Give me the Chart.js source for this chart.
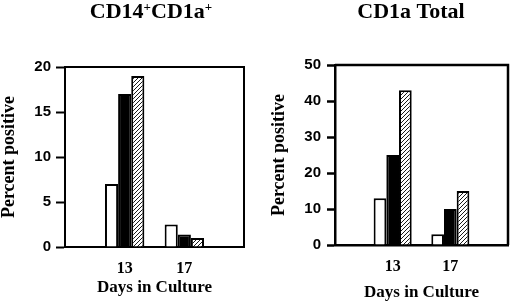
<!DOCTYPE html>
<html>
<head>
<meta charset="utf-8">
<script src="https://cdn.jsdelivr.net/npm/chart.js@4/dist/chart.umd.min.js"></script>
<style>
  html, body { margin: 0; padding: 0; background: #fff; }
  #wrap { position: relative; width: 520px; height: 305px; }
  .panel { position: absolute; top: 0; width: 260px; height: 305px; }
</style>
</head>
<body>
<div id="wrap">
  <div class="panel" style="left:0"><canvas id="c1" width="260" height="305"></canvas></div>
  <div class="panel" style="left:260px"><canvas id="c2" width="260" height="305"></canvas></div>
</div>
<script>
// ---- data ----
const days = ["13", "17"];
const seriesNames = ["Condition A", "Condition B", "Condition C"];

// Panel 1: CD14+CD1a+
const p1Title = [["CD14", false], ["+", true], ["CD1a", false], ["+", true]];
const p1White = [7, 2.5];
const p1Black = [17, 1.4];
const p1Hatch = [19, 1];
const p1YTicks = [0, 5, 10, 15, 20];

// Panel 2: CD1a Total
const p2Title = [["CD1a Total", false]];
const p2White = [13, 3];
const p2Black = [25, 10];
const p2Hatch = [43, 15];
const p2YTicks = [0, 10, 20, 30, 40, 50];

const yTitle = "Percent positive";
const xTitle = "Days in Culture";

// ---- helpers ----
const SERIF = "'Liberation Serif', 'Times New Roman', serif";
const SANS = "'Liberation Sans', Arial, sans-serif";

function hatchPattern() {
  const c = document.createElement('canvas');
  c.width = 4; c.height = 4;
  const g = c.getContext('2d');
  g.fillStyle = '#fff';
  g.fillRect(0, 0, 4, 4);
  g.strokeStyle = '#000';
  g.lineWidth = 0.9;
  g.beginPath();
  g.moveTo(-1, 5); g.lineTo(5, -1);
  g.moveTo(-1, 1); g.lineTo(1, -1);
  g.moveTo(3, 5); g.lineTo(5, 3);
  g.stroke();
  return g.createPattern(c, 'repeat');
}

const labels = ["", ...days, ""];
const pad = arr => [null, ...arr, null];

const boxPlugin = {
  id: 'boxPlugin',
  afterDatasetsDraw(chart, args, opts) {
    const {ctx, chartArea: a} = chart;
    ctx.save();
    ctx.strokeStyle = '#000';
    ctx.lineWidth = opts.width || 2;
    ctx.beginPath();
    ctx.moveTo(a.left, a.top);
    ctx.lineTo(a.right, a.top);
    ctx.lineTo(a.right, a.bottom);
    ctx.stroke();
    ctx.restore();
  }
};

const titlePlugin = {
  id: 'richTitle',
  afterDraw(chart, args, opts) {
    const ctx = chart.ctx;
    const big = "bold " + opts.size + "px " + SERIF;
    const small = "bold " + opts.supSize + "px " + SERIF;
    ctx.save();
    ctx.fillStyle = '#000';
    ctx.textBaseline = 'alphabetic';
    let total = 0;
    opts.parts.forEach(([t, sup]) => { ctx.font = sup ? small : big; total += ctx.measureText(t).width; });
    let x = opts.cx - total / 2;
    opts.parts.forEach(([t, sup]) => {
      ctx.font = sup ? small : big;
      ctx.textAlign = 'left';
      ctx.fillText(t, x, sup ? opts.baseline - opts.supRaise : opts.baseline);
      x += ctx.measureText(t).width;
    });
    ctx.restore();
  }
};

function makeChart(id, cfg) {
  const hatch = hatchPattern();
  return new Chart(document.getElementById(id), {
    type: 'bar',
    data: {
      labels: labels,
      datasets: [
        { label: seriesNames[0], data: pad(cfg.white), backgroundColor: '#fff', borderColor: '#000', borderWidth: 2 },
        { label: seriesNames[1], data: pad(cfg.black), backgroundColor: '#000', borderColor: '#000', borderWidth: 2 },
        { label: seriesNames[2], data: pad(cfg.hatch), backgroundColor: hatch, borderColor: '#000', borderWidth: 2 }
      ]
    },
    plugins: [boxPlugin, titlePlugin],
    options: {
      responsive: false,
      animation: false,
      devicePixelRatio: 1,
      layout: { padding: { top: cfg.top, right: cfg.right, left: 0, bottom: 0 } },
      datasets: { bar: { categoryPercentage: 0.66, barPercentage: 1.0, grouped: true } },
      plugins: {
        legend: { display: false },
        title: { display: false },
        tooltip: { enabled: false },
        boxPlugin: { width: cfg.lw },
        richTitle: { parts: cfg.title, size: 22, supSize: 13, supRaise: 7, baseline: 18, cx: 151 }
      },
      scales: {
        x: {
          type: 'category',
          offset: false,
          grid: { display: false, drawTicks: false },
          border: { display: true, color: '#000', width: cfg.lw },
          ticks: { color: '#000', font: { family: SERIF, size: 16, weight: 'bold' }, padding: cfg.xTickPad, maxRotation: 0, autoSkip: false },
          title: { display: true, text: xTitle, color: '#000', font: { family: SERIF, size: 17, weight: 'bold', lineHeight: 1.2 }, padding: { top: 0, bottom: cfg.xTitlePad } },
          afterFit(s) { s.height = 305 - cfg.bottom; }
        },
        y: {
          min: 0, max: cfg.max,
          afterBuildTicks(s) { s.ticks = cfg.yTicks.map(v => ({ value: v })); },
          grid: { display: true, drawOnChartArea: false, drawTicks: true, tickLength: cfg.tickLen, tickWidth: cfg.lw, tickColor: '#000' },
          border: { display: true, color: '#000', width: cfg.lw },
          ticks: { color: '#000', font: { family: SANS, size: 15, weight: 'bold' }, padding: cfg.yTickPad },
          title: { display: true, text: yTitle, color: '#000', font: { family: SERIF, size: 18, weight: 'bold', lineHeight: 1.0 }, padding: { top: cfg.yTitlePad, bottom: 0 } },
          afterFit(s) { s.width = cfg.left; }
        }
      }
    }
  });
}

makeChart('c1', {
  title: p1Title, white: p1White, black: p1Black, hatch: p1Hatch, yTicks: p1YTicks, max: 20,
  top: 67, bottom: 247, left: 65, right: 260 - 244,
  lw: 2, tickLen: 9, yTickPad: 5, yTitlePad: 0, xTickPad: 12, xTitlePad: 7
});
makeChart('c2', {
  title: p2Title, white: p2White, black: p2Black, hatch: p2Hatch, yTicks: p2YTicks, max: 50,
  top: 65, bottom: 245, left: 75, right: 260 - 257,
  lw: 2.5, tickLen: 8, yTickPad: 6, yTitlePad: 10, xTickPad: 12, xTitlePad: 2
});
</script>
</body>
</html>
